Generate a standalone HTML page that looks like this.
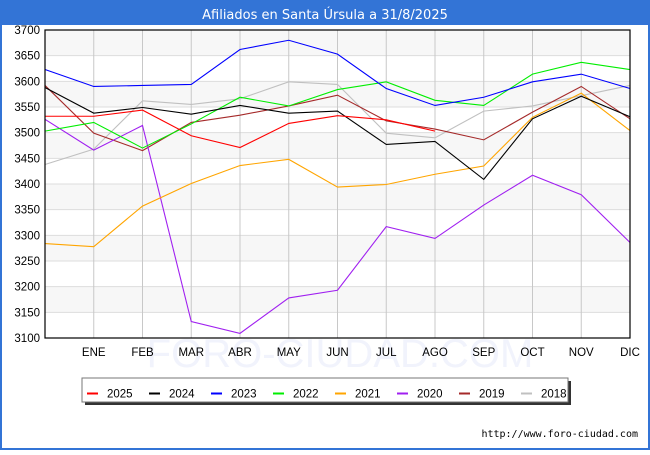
<!DOCTYPE html>
<html><head><meta charset="utf-8"><style>
body{margin:0;width:650px;height:450px;overflow:hidden;background:#fff;font-family:"Liberation Sans","DejaVu Sans",sans-serif}
</style></head><body>
<svg id="c" width="650" height="450" xmlns="http://www.w3.org/2000/svg">
<rect x="0" y="0" width="650" height="450" fill="#3374d6"/>
<rect x="2" y="25" width="646" height="423" fill="#fff"/>
<text x="325" y="19" text-anchor="middle" font-size="13" fill="#fff" font-family="DejaVu Sans, sans-serif">Afiliados en Santa Úrsula a 31/8/2025</text>
<g id="plot"></g>
<text x="638" y="437" text-anchor="end" font-size="10" fill="#000" font-family="DejaVu Sans Mono, monospace">http://www.foro-ciudad.com</text>
</svg>
<script>
const months=["","ENE","FEB","MAR","ABR","MAY","JUN","JUL","AGO","SEP","OCT","NOV","DIC"];
const yTicks=[3100,3150,3200,3250,3300,3350,3400,3450,3500,3550,3600,3650,3700];
const seriesNames=["2025","2024","2023","2022","2021","2020","2019","2018"];
const seriesColors=["#ff0000","#000000","#0000ff","#00ee00","#ffa500","#a020f0","#a52a2a","#c0c0c0"];
const s2025=[3532,3532,3544,3494,3471,3518,3533,3525,3503];
const s2024=[3588,3538,3549,3536,3553,3538,3542,3477,3483,3409,3527,3571,3531];
const s2023=[3623,3590,3592,3594,3662,3680,3653,3586,3553,3569,3599,3614,3586];
const s2022=[3503,3520,3470,3517,3569,3552,3584,3599,3563,3553,3614,3637,3623];
const s2021=[3284,3278,3357,3401,3436,3448,3394,3399,3419,3435,3530,3577,3504];
const s2020=[3526,3466,3514,3132,3109,3178,3193,3317,3294,3359,3417,3379,3286];
const s2019=[3592,3499,3465,3520,3534,3552,3573,3523,3507,3486,3540,3590,3527];
const s2018=[3438,3468,3562,3555,3566,3599,3594,3499,3490,3542,3552,3572,3592];
const seriesData=[s2025,s2024,s2023,s2022,s2021,s2020,s2019,s2018];
const L=45,R=630,T=30,B=338,yMin=3100,yMax=3700;
const xS=i=>L+i*(R-L)/12;
const yS=v=>B-(v-yMin)*(B-T)/(yMax-yMin);
const NS="http://www.w3.org/2000/svg";
const g=document.getElementById("plot");
function mk(tag,attrs,parent){const e=document.createElementNS(NS,tag);for(const k in attrs)e.setAttribute(k,attrs[k]);(parent||g).appendChild(e);return e;}
for(let i=0;i<yTicks.length-1;i++){
  if(i%2===1){const r=mk("rect",{x:L,y:yS(yTicks[i+1]),width:R-L,height:yS(yTicks[i])-yS(yTicks[i+1]),fill:"#f7f7f7"});
  
  }
}
const wm=mk("text",{x:340,y:367,"text-anchor":"middle","font-size":"40",fill:"#f1f3fc"});
wm.textContent="FORO-CIUDAD.COM";


yTicks.forEach(v=>{
  const l=mk("line",{x1:L,x2:R,y1:yS(v),y2:yS(v),stroke:"#dddddd","stroke-width":1});
  
  
  const t=mk("text",{x:40,y:yS(v)+4,"text-anchor":"end","font-size":"11.5",fill:"#000"});
  t.textContent=v;
  
  
});
months.forEach((m,i)=>{
  if(i>0){const l=mk("line",{x1:xS(i),x2:xS(i),y1:T,y2:B,stroke:"#c8c8c8","stroke-width":1});
  
  }
  if(m){const t=mk("text",{x:xS(i),y:356,"text-anchor":"middle","font-size":"11.5",fill:"#000"});
  t.textContent=m;
  
  }
});
for(let s=seriesData.length-1;s>=0;s--){
  const pts=seriesData[s].map((v,i)=>xS(i)+","+yS(v)).join(" ");
  const p=mk("polyline",{points:pts,fill:"none",stroke:seriesColors[s],"stroke-width":1.1});
  
  
}
const fr=mk("rect",{x:L,y:T,width:R-L,height:B-T,fill:"none",stroke:"#000","stroke-width":1.2});


const lg=mk("g",{});


mk("rect",{x:85,y:381,width:486,height:24,fill:"#333"},lg);
mk("rect",{x:82,y:378,width:486,height:24,fill:"#fff",stroke:"#777","stroke-width":1},lg);
seriesNames.forEach((n,i)=>{
  const x=87+i*62;
  const e=mk("g",{},lg);
  
  
  mk("line",{x1:x,x2:x+11,y1:393.5,y2:393.5,stroke:seriesColors[i],"stroke-width":2},e);
  const t=mk("text",{x:x+20,y:397.5,"font-size":"11.5",fill:"#000"},e);
  t.textContent=n;
});
</script>
</body></html>
